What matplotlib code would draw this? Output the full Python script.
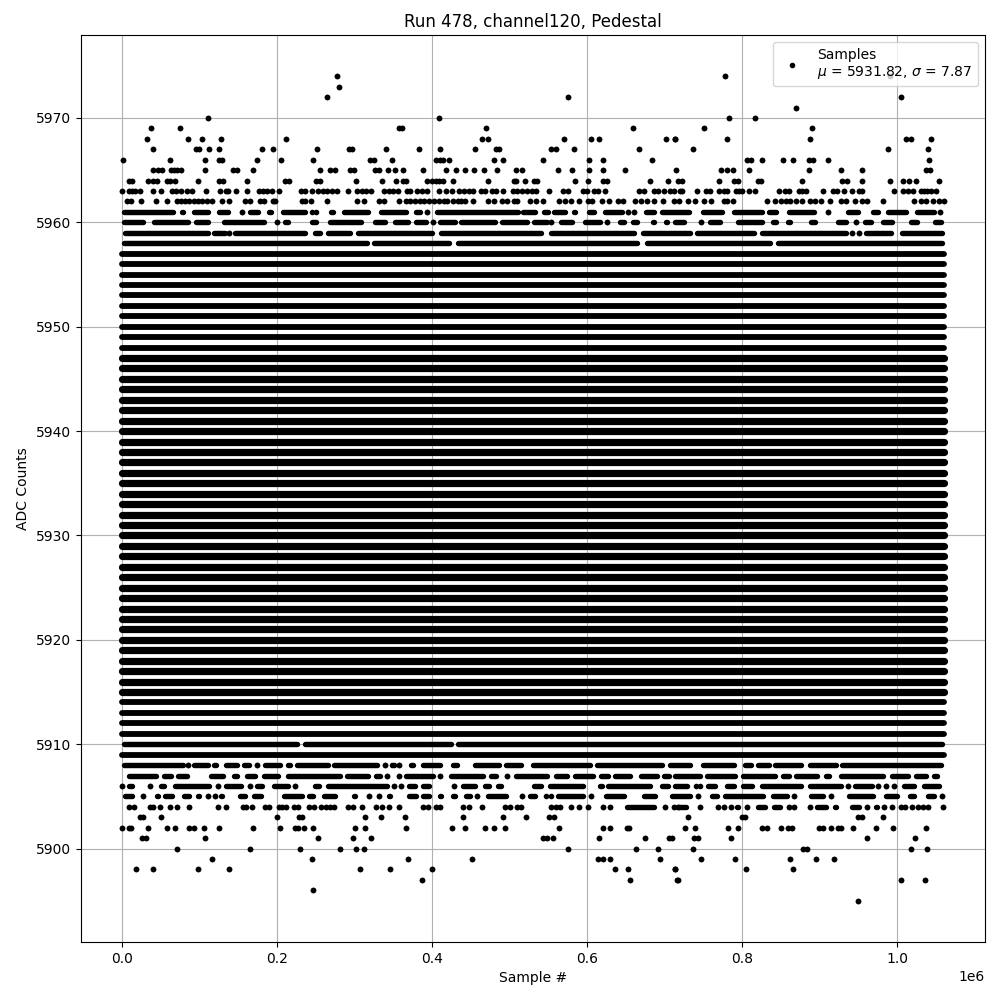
import matplotlib
matplotlib.use("Agg")
import matplotlib.pyplot as plt

TITLE = "Run 478, channel120, Pedestal"
XLABEL = "Sample #"
YLABEL = "ADC Counts"
LEGEND = "Samples\n$\\mu$ = 5931.82, $\\sigma$ = 7.87"

# Sample positions are in thousands of samples.
# A number is an isolated sample; (a, b) is an unbroken run of samples.
s5974 = [278, 778, 990]
s5973 = [280]
s5972 = [265, 575, 1005]
s5971 = [870]
s5970 = [112, 409, 783, 817]
s5969 = [38, 75, 357, 362, 470, 659, 751, 890]
s5968 = [33, 86, 103, 128, 212, 465, 472, 570, 605, 615, 702, 713, 714, 781, 887, 1011, 1018, 1043]
s5967 = [40, 96, 100, 113, 126, 181, 195, 252, 293, 297, 341, 383, 410, 455, 482, 486, 553, 560, 583,
         667, 736, 988, 1040]
s5966 = [2, 62, 107, 126, 130, 174, 206, 247, 320, 325, 349, 405, 410, 414, 422, 480, 492, 543, 603,
         621, 684, 806, 811, 826, 852, 865, 886, 891, 910, 1041]
s5965 = [40, 47, 52, 64, 67, 71, 77, 108, 144, 149, 170, 256, 268, 275, 294, 300, 326, 332, 344, 352,
         363, 388, 418, 431, 443, 454, 467, 484, 508, 516, 563, 581, 603, 621, 649, 715, 773, 781, 788,
         809, 886, 927, 955, 1037, 1042]
s5964 = [9, 13, 34, 40, 46, 58, 62, 69, 98, 125, 131, 161, 211, 216, 250, 256, 302, 336, 354, 363, 367,
         394, 400, 405, 409, 414, 427, 472, 506, 509, 520, 532, 536, 584, 601, 620, 626, 681, 704, 717,
         723, 770, 789, 794, 820, 824, 877, 929, 935, 954, 991, 1007, 1015, 1024, 1054]
s5963 = [1, 9, 13, 17, 24, 40, 51, 65, 70, 76, 84, 91, 109, 127, 134, 137, 147, 162, 177, 182, 187, 194,
         203, 231, 236, 245, 253, 259, 265, 271, 278, 292, 303, 310, 315, 322, 338, 345, 350, 356, 368,
         372, 381, 387, 394, 409, 418, 426, 435, 442, 448, 453, 463, 469, 478, 482, 492, 504, 510, 516,
         523, 529, 534, 551, 569, 575, 595, 600, 609, 614, 623, 667, 673, 686, 691, 699, 707, 712, 720,
         722, 742, 753, 759, 770, 777, 781, 792, 796, 800, 809, 817, 847, 855, 860, 873, 877, 882, 904,
         917, 922, 931, 941, 950, 955, 996, 1007, 1014, 1020, 1030, 1035, 1038, 1044, 1050]
s5962 = [7, 12, 25, 44, 58, 71, 77, 82, 87, 93, 98, 103, 110, 116, 129, 138, 159, 166, 178, 183, 195, 198,
         233, 236, 244, 265, 303, 312, 332, 338, 357, 366, 372, 378, 385, 390, 396, 403, 409, 415, 420,
         427, 433, 438, 443, 453, 472, 480, 491, 497, 506, 510, 527, 534, 543, 564, 572, 579, 590, 601,
         607, 619, 628, 640, 646, 662, 669, 677, 686, 698, 712, 719, 730, 739, 751, 760, 776, 781, 788,
         832, 842, 850, 856, 861, 870, 877, 888, 894, 901, 913, 927, 934, 946, 954, 961, 982, 1022, 1030,
         1037, 1046, 1054, 1060]
s5961 = [(0, 69), (75, 82), (90, 114), (123, 140), 155, (162, 179), (187, 196), (205, 239), (246, 250),
         (256, 263), (267, 275), (284, 321), (332, 370), (377, 388), 394, (403, 514), (515, 536), (541, 553),
         (555, 575), (580, 588), (600, 612), (620, 648), 653, 661, (673, 689), (693, 735), (746, 777),
         (787, 828), (832, 846), (857, 896), 911, (933, 952), (966, 978), (985, 1014), (1022, 1050), 1055]
s5960 = [(0, 30), (39, 88), (93, 114), (129, 187), 200, (208, 218), (243, 253), (265, 312), (323, 343),
         (349, 372), (377, 396), 402, (408, 433), (435, 484), (488, 525), (529, 551), 554, (564, 583),
         (594, 620), 626, (639, 651), (656, 667), (682, 689), (699, 706), (711, 728), 747, (756, 775),
         (792, 829), (837, 846), (856, 864), (886, 897), (920, 937), 947, (955, 969), (978, 996),
         (1014, 1028), (1046, 1059)]
s5959 = [(2, 114), (116, 136), 139, (143, 239), (246, 259), (263, 297), (302, 403), (409, 544), (550, 664),
         (669, 736), (739, 818), (823, 937), 941, 951, (957, 995), (1003, 1060)]
s5958 = [(0, 319), (322, 425), (431, 668), (674, 839), (843, 1060)]
s5910 = [(0, 229), (234, 427), (431, 1060)]
s5908 = [(0, 82), 85, (90, 114), (116, 125), (131, 152), (155, 167), 174, (182, 207), (211, 220), (223, 269),
         (271, 332), 340, (348, 351), 357, (370, 379), (385, 413), (424, 435), (452, 489), (493, 518),
         (527, 607), (610, 699), (704, 736), (747, 792), (800, 814), (818, 837), (839, 879), (884, 924),
         (926, 1059)]
s5907 = [(6, 47), (52, 67), (70, 87), (112, 134), (142, 152), (159, 175), (181, 204), (211, 284), (288, 321),
         (325, 336), 342, 357, (364, 405), 411, (422, 469), (473, 486), 497, (505, 551), (557, 577),
         (582, 611), (615, 630), (633, 658), (667, 693), (696, 708), (711, 749), (751, 794), (798, 845),
         (850, 863), (867, 899), (905, 915), (924, 984), (990, 1017), (1021, 1040), (1044, 1054)]
s5906 = [0, (6, 16), 36, (48, 58), (66, 116), 124, (131, 157), 165, (172, 184), (193, 218), 223, (246, 257),
         (263, 345), 351, 360, (368, 381), (385, 399), 428, (437, 459), (465, 476), (482, 492), (529, 544),
         (549, 598), (614, 622), (624, 684), (693, 707), (711, 732), (741, 746), (753, 768), (778, 792),
         (798, 815), (823, 879), (885, 931), 936, (943, 970), 975, 985, 996, (1005, 1025), (1031, 1057)]
s5905 = [(1, 16), 28, (42, 50), (53, 68), (78, 90), (96, 103), 112, 120, (125, 132), (149, 162), (168, 183),
         (206, 235), (239, 250), (258, 278), (296, 304), 319, 332, (342, 349), (368, 383), (385, 399),
         (407, 415), (424, 433), (441, 452), 458, (469, 499), 516, (523, 536), (547, 553), (560, 598), 605,
         (622, 650), (670, 691), (706, 736), 743, (758, 771), (775, 830), (837, 861), 867, (886, 907), 914,
         (935, 971), (983, 1002), (1013, 1025), (1037, 1050), 1057]
s5904 = [9, 16, 37, 40, 50, 63, 71, 87, 124, 134, 156, 160, 168, 185, 190, 203, 207, 212, 222, 228, 241, 248,
         257, 263, 269, 274, 292, 298, 310, 328, 336, 345, 357, 388, 395, 405, 411, 440, 448, 464, 494, 501,
         510, 515, 553, 560, 565, 579, 590, 601, 620, 629, (649, 689), 701, 712, 717, (714, 730), 745, 769,
         777, 785, (790, 798), 806, (818, 832), (838, 852), 860, 867, 888, (894, 911), (916, 924), (939, 954),
         961, (969, 977), 983, 993, 1005, 1010, 1019, 1027, 1033, 1040, 1059]
s5903 = [24, 28, 51, 200, 229, 232, 314, 334, 365, 440, 492, 521, 551, 557, 730, 800, 803, 949, 955, 982]
s5902 = [1, 9, 12, 34, 59, 69, 87, 93, 106, 125, 169, 204, 223, 228, 235, 247, 301, 314, 366, 426, 443, 468,
         480, 494, 564, 621, 630, 652, 654, 726, 739, 782, 794, 826, 832, 850, 859, 864, 899, 904, 915, 923,
         928, 943, 973, 995, 1037]
s5901 = [26, 32, 107, 253, 298, 321, 543, 549, 556, 615, 675, 706, 709, 738, 743, 786, 961, 1023]
s5900 = [72, 166, 230, 281, 302, 312, 575, 663, 692, 737, 879, 883, 1018, 1038]
s5899 = [116, 245, 369, 452, 614, 620, 630, 694, 747, 791, 861, 895, 918]
s5898 = [18, 40, 98, 139, 307, 346, 400, 636, 653, 713, 714, 805, 865]
s5897 = [387, 655, 716, 717, 1005, 1036]
s5896 = [247]
s5895 = [949]

# Rows so dense that every level reads as one solid band over the whole run.
ragged_levels = [5909, 5911, 5912, 5913, 5914, 5948, 5949, 5950, 5951, 5952, 5953, 5954, 5955, 5956, 5957]
solid_levels = list(range(5915, 5948))
band_start = 0
band_end = 1060

rows = {5974: s5974, 5973: s5973, 5972: s5972, 5971: s5971, 5970: s5970, 5969: s5969, 5968: s5968,
        5967: s5967, 5966: s5966, 5965: s5965, 5964: s5964, 5963: s5963, 5962: s5962, 5961: s5961,
        5960: s5960, 5959: s5959, 5958: s5958, 5910: s5910, 5908: s5908, 5907: s5907, 5906: s5906,
        5905: s5905, 5904: s5904, 5903: s5903, 5902: s5902, 5901: s5901, 5900: s5900, 5899: s5899,
        5898: s5898, 5897: s5897, 5896: s5896, 5895: s5895}

fig, ax = plt.subplots(figsize=(10, 10), dpi=100)

CAP = 3  # round caps reach this far (thousands of samples) past a run's end
xs, ys = [], []
for level, spans in rows.items():
    for span in spans:
        a, b = span if isinstance(span, tuple) else (span, span)
        if b - a <= 2 * CAP:
            xs.extend([a * 1000, b * 1000])
            ys.extend([level, level])
        else:
            ax.hlines(level, (a + CAP) * 1000, (b - CAP) * 1000, color="k", lw=3.9, capstyle="round", zorder=2)

ax.hlines(ragged_levels, band_start * 1000, band_end * 1000, color="k", lw=4.2, capstyle="round", zorder=2)
ax.hlines(solid_levels, band_start * 1000, band_end * 1000, color="k", lw=5.2, capstyle="round", zorder=2)
ax.plot(xs, ys, ".", color="k", label=LEGEND, zorder=2)

ax.set_title(TITLE)
ax.set_xlabel(XLABEL)
ax.set_ylabel(YLABEL)
ax.grid(True)
ax.legend(loc="upper right")
fig.subplots_adjust(left=0.0805, right=0.985, top=0.965, bottom=0.058)
fig.savefig("out.png", dpi=100)
